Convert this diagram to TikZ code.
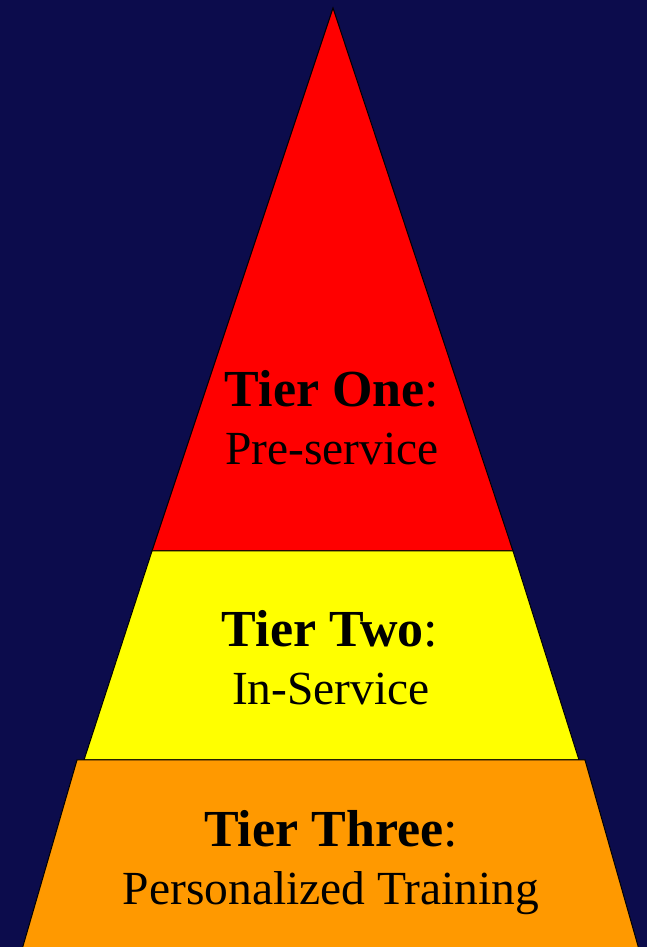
\documentclass[tikz,border=0pt]{standalone}
\usepackage{fontspec}
\setmainfont{Liberation Serif}
\usepackage{tikz}
\usetikzlibrary{positioning}
\usepackage{xcolor}
\definecolor{navyback}{RGB}{12,12,76}
\definecolor{tierred}{RGB}{255,0,0}
\definecolor{tieryellow}{RGB}{255,255,0}
\definecolor{tierorange}{RGB}{255,153,0}

\begin{document}
\begin{tikzpicture}[x=1pt, y=1pt,
    tierhead/.style={anchor=base, inner sep=0pt, font=\fontsize{52}{60}\selectfont},
    tiersub/.style={anchor=base, inner sep=0pt, font=\fontsize{47.5}{56}\selectfont}]
        \fill[navyback] (0,0) rectangle (647,947);
        \useasboundingbox (0,0) rectangle (647,947);
        % Pyramid
        \draw[fill=tierred, line width=1pt] (333,939) -- (513,396) -- (152,396) -- cycle;
        \draw[fill=tieryellow, line width=1pt] (152,396) -- (513,396) -- (579,187) -- (84,187) -- cycle;
        \draw[fill=tierorange, line width=1pt] (77,187) -- (585,187) -- (640,-6) -- (21,-6) -- cycle;
        % Labels
        \node[tierhead] (one) at (332,540) {\textbf{Tier One}:};
        \node[tiersub] (onesub) at (332,482) {Pre-service};
        \node[tierhead] (two) at (330,300) {\textbf{Tier Two}:};
        \node[tiersub] (twosub) at (331,242) {In-Service};
        \node[tierhead] (three) at (331,100) {\textbf{Tier Three}:};
        \node[tiersub] (threesub) at (331,42) {Personalized Training};
    \end{tikzpicture}
\end{document}
